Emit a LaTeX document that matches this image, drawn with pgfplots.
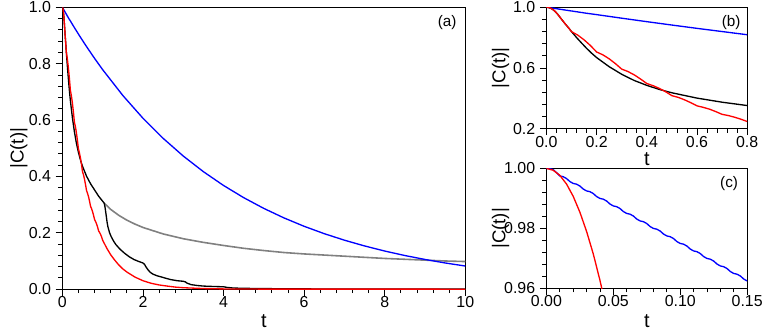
\documentclass[border=0pt]{standalone}
\usepackage{fontspec}
\setmainfont{Liberation Sans}
\usepackage{pgfplots}
\usepackage{pgfplotstable}
\pgfplotsset{compat=1.18}

% red curve
\pgfplotstableread{
t v
0 1.0
0.005 0.9994
0.01 0.9977
0.015 0.9948
0.02 0.9907
0.025 0.9854
0.03 0.9790
0.035 0.9715
0.04 0.9627
0.045 0.9528
0.05 0.9425
0.06 0.921
0.07 0.900
0.08 0.880
0.09 0.860
0.1 0.839
0.125 0.816
0.15 0.785
0.175 0.748
0.2 0.705
0.225 0.686
0.25 0.660
0.275 0.628
0.3 0.592
0.325 0.576
0.35 0.554
0.375 0.527
0.4 0.497
0.425 0.483
0.45 0.465
0.475 0.443
0.5 0.417
0.525 0.406
0.55 0.390
0.575 0.371
0.6 0.350
0.625 0.340
0.65 0.328
0.675 0.312
0.7 0.294
0.725 0.286
0.75 0.275
0.775 0.262
0.8 0.247
0.825 0.240
0.85 0.231
0.875 0.220
0.9 0.207
0.925 0.201
0.95 0.194
0.975 0.185
1.0 0.174
1.1 0.146
1.2 0.122
1.3 0.103
1.4 0.086
1.5 0.072
1.6 0.061
1.8 0.043
2.0 0.030
2.2 0.021
2.4 0.015
2.6 0.011
2.8 0.0074
3.0 0.0052
3.5 0.0022
4.0 0.0009
5.0 0.0002
10 0.0
}\redtab

% black curve
\pgfplotstableread{
t v
0 1.0
0.01 0.9977
0.02 0.9907
0.03 0.9790
0.04 0.9627
0.05 0.9425
0.06 0.921
0.07 0.900
0.08 0.880
0.09 0.860
0.1 0.839
0.12 0.800
0.14 0.764
0.16 0.729
0.18 0.697
0.2 0.668
0.25 0.608
0.3 0.558
0.35 0.517
0.4 0.485
0.45 0.458
0.5 0.436
0.6 0.401
0.7 0.374
0.8 0.352
0.9 0.330
1.0 0.312
1.04 0.305
1.06 0.290
1.085 0.265
1.11 0.238
1.13 0.222
1.17 0.201
1.21 0.187
1.27 0.171
1.33 0.158
1.43 0.142
1.54 0.128
1.66 0.115
1.78 0.105
1.9 0.098
2.0 0.093
2.04 0.088
2.08 0.078
2.13 0.068
2.18 0.060
2.24 0.054
2.34 0.048
2.44 0.044
2.56 0.039
2.69 0.034
2.85 0.030
3.0 0.028
3.05 0.026
3.1 0.021
3.2 0.016
3.35 0.013
3.5 0.011
3.75 0.0095
4.0 0.0085
4.1 0.006
4.25 0.004
4.5 0.003
5.0 0.002
6.0 0.001
7.0 0.0005
10 0.0002
}\blacktab

% gray curve
\pgfplotstableread{
t v
1.04 0.305
1.2 0.283
1.4 0.262
1.6 0.245
1.8 0.231
2.0 0.219
2.5 0.196
3.0 0.179
3.5 0.166
4.0 0.155
4.5 0.145
5.0 0.137
5.5 0.130
6.0 0.125
6.5 0.121
7.0 0.117
7.5 0.113
8.0 0.109
8.5 0.106
9.0 0.103
9.5 0.100
10 0.098
}\graytab

% blue curve
\pgfplotstableread{
t v
0 1.0
0.0025 0.99995
0.005 0.9996
0.0075 0.9986
0.01 0.9975
0.0125 0.99725
0.015 0.996625
0.0175 0.995625
0.02 0.9950
0.0225 0.99475
0.025 0.994125
0.0275 0.993125
0.03 0.9925
0.0325 0.99225
0.035 0.991625
0.0375 0.990625
0.04 0.9900
0.0425 0.98975
0.045 0.989125
0.0475 0.988125
0.05 0.9875
0.0525 0.98725
0.055 0.986625
0.0575 0.985625
0.06 0.9850
0.0625 0.98475
0.065 0.984125
0.0675 0.983125
0.07 0.9825
0.0725 0.98225
0.075 0.981625
0.0775 0.980625
0.08 0.9800
0.0825 0.97975
0.085 0.979125
0.0875 0.978125
0.09 0.9775
0.0925 0.97725
0.095 0.976625
0.0975 0.975625
0.10 0.9750
0.1025 0.97475
0.105 0.974125
0.1075 0.973125
0.11 0.9725
0.1125 0.97225
0.115 0.971625
0.1175 0.970625
0.12 0.9700
0.1225 0.96975
0.125 0.969125
0.1275 0.968125
0.13 0.9675
0.1325 0.96725
0.135 0.966625
0.1375 0.965625
0.14 0.9650
0.1425 0.96475
0.145 0.964125
0.1475 0.963125
0.15 0.9625
0.2 0.9512
0.3 0.9277
0.4 0.9048
0.5 0.8825
0.6 0.8607
0.8 0.8187
1.0 0.7788
1.5 0.6873
2.0 0.6065
2.5 0.5353
3.0 0.4724
3.5 0.4169
4.0 0.3679
4.5 0.3247
5.0 0.2865
5.5 0.2528
6.0 0.2231
6.5 0.1969
7.0 0.1738
7.5 0.1534
8.0 0.1353
8.5 0.1194
9.0 0.1054
9.5 0.0930
10 0.0821
}\bluetab

\pgfplotsset{
  panel/.style={
    scale only axis,
    axis line style={line width=0.6pt},
    tick align=outside,
    xtick pos=bottom, ytick pos=left,
    major tick length=5pt, minor tick length=3pt,
    every tick/.style={black, line width=0.6pt},
    minor x tick num=4, minor y tick num=4,
    /pgf/number format/assume math mode=true,
    tick label style={font=\fontsize{12}{14}\selectfont},
    x tick label style={yshift=3pt},
    xlabel style={font=\fontsize{15}{17}\selectfont},
    ylabel style={font=\fontsize{14}{16}\selectfont},
    xlabel={t}, ylabel={|C(t)|},
    every axis plot/.append style={line width=1pt},
  },
}

\begin{document}
\begin{tikzpicture}
% panel (a)
\begin{axis}[panel, at={(0pt,0pt)}, anchor=south west,
  width=303.75pt, height=212.5pt,
  xmin=0, xmax=10, ymin=0, ymax=1,
  xtick={0,2,4,6,8,10}, ytick={0,0.2,0.4,0.6,0.8,1},
  yticklabel style={/pgf/number format/.cd, fixed, fixed zerofill, precision=1},
  xlabel style={at={(axis description cs:0.5,-0.115)}, anchor=center},
  ylabel style={at={(axis description cs:-0.108,0.5)}, anchor=center},
]
\addplot[gray, line width=1.2pt] table[x=t,y=v] {\graytab};
\addplot[blue] table[x=t,y=v] {\bluetab};
\addplot[black] table[x=t,y=v] {\blacktab};
\addplot[red] table[x=t,y=v] {\redtab};
\node[font=\fontsize{11.5}{13}\selectfont] at (rel axis cs:0.955,0.945) {(a)};
\end{axis}

% panel (b)
\begin{axis}[panel, at={(364.95pt,121.05pt)}, anchor=south west,
  width=151.3pt, height=91.5pt,
  xmin=0, xmax=0.8, ymin=0.2, ymax=1,
  xtick={0,0.2,0.4,0.6,0.8}, ytick={0.2,0.6,1.0},
  xticklabel style={/pgf/number format/.cd, fixed, fixed zerofill, precision=1},
  yticklabel style={/pgf/number format/.cd, fixed, fixed zerofill, precision=1},
  xlabel style={at={(axis description cs:0.5,-0.25)}, anchor=center},
  ylabel style={at={(axis description cs:-0.228,0.5)}, anchor=center},
]
\addplot[blue] table[x=t,y=v] {\bluetab};
\addplot[black] table[x=t,y=v] {\blacktab};
\addplot[red] table[x=t,y=v] {\redtab};
\node[font=\fontsize{11.5}{13}\selectfont] at (rel axis cs:0.92,0.87) {(b)};
\end{axis}

% panel (c)
\begin{axis}[panel, at={(364.95pt,0.5pt)}, anchor=south west,
  width=151.3pt, height=90.5pt,
  xmin=0, xmax=0.15, ymin=0.96, ymax=1,
  xtick={0,0.05,0.1,0.15}, ytick={0.96,0.98,1.0},
  xticklabel style={/pgf/number format/.cd, fixed, fixed zerofill, precision=2},
  yticklabel style={/pgf/number format/.cd, fixed, fixed zerofill, precision=2},
  scaled x ticks=false, scaled y ticks=false,
  xlabel style={at={(axis description cs:0.5,-0.27)}, anchor=center},
  ylabel style={at={(axis description cs:-0.228,0.5)}, anchor=center},
]
\addplot[blue] table[x=t,y=v] {\bluetab};
\addplot[red] table[x=t,y=v] {\redtab};
\node[font=\fontsize{11.5}{13}\selectfont] at (rel axis cs:0.91,0.87) {(c)};
\end{axis}

% page frame with the reference's proportions
\pgfresetboundingbox
\useasboundingbox (-47.0pt,-32.3pt) rectangle (528.2pt,218.0pt);
\end{tikzpicture}
\end{document}
